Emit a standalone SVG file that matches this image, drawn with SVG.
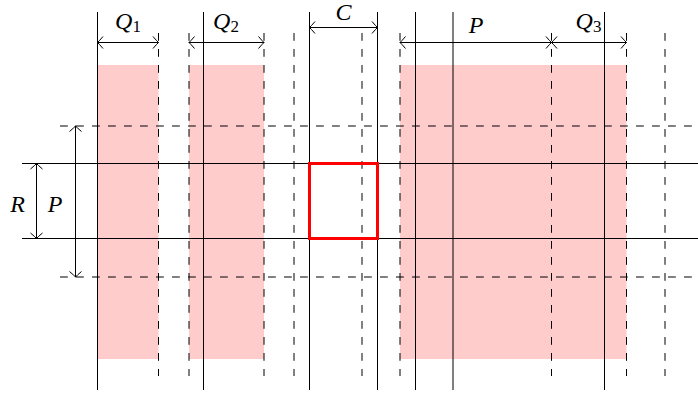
<svg xmlns="http://www.w3.org/2000/svg" width="698" height="394" viewBox="0 0 698 394">
<style>
.s{stroke:#000;stroke-width:1;fill:none}
.d{stroke:#000;stroke-width:1;fill:none;stroke-dasharray:7.8 8.2}
.dim{stroke:#000;stroke-width:1;fill:none;marker-start:url(#tip);marker-end:url(#tip)}
.fill{fill:#ffcccc;stroke:none}
.lbl{font-family:"Liberation Serif","DejaVu Serif",serif;font-style:italic;font-size:24px;fill:#000;text-anchor:middle}
.sub{font-style:normal;font-size:17px}
</style>
<defs>
<marker id="tip" markerUnits="userSpaceOnUse" viewBox="-8 -8 10 16" markerWidth="10" markerHeight="16" refX="0" refY="0" orient="auto-start-reverse" overflow="visible">
<path d="M -5.5 -6 Q -1.6 -1.4 0 0 Q -1.6 1.4 -5.5 6" fill="none" stroke="#000" stroke-width="1"/>
</marker>
</defs>
<rect width="698" height="394" fill="#fff"/>
<g id="shading">
<rect class="fill" x="97.5" y="65" width="61" height="294"/>
<rect class="fill" x="189" y="65" width="75" height="294"/>
<rect class="fill" x="400" y="65" width="226.5" height="294"/>
</g>
<g id="grid">
<path class="s" d="M97.5 12V390M203.5 12V390M309.5 12V390M377.5 12V390M415.5 12V390M453 12V390M604.5 12V390"/>
<path class="d" d="M158.5 33V376M189 33V376M264 33V376M294 33V376M362 33V376M400 33V376M551.5 33V376M626.5 33V376M665 33V376"/>
<path class="s" d="M22 163.5H698M22 238.5H698"/>
<path class="d" d="M60 126H698M60 277H698"/>
</g>
<g id="cell">
<rect x="309.5" y="163.5" width="68" height="75" fill="none" stroke="#ff0000" stroke-width="3"/>
</g>
<g id="dimensions">
<line class="dim" x1="97.5" y1="42.5" x2="158.5" y2="42.5"/>
<line class="dim" x1="189" y1="42.5" x2="264" y2="42.5"/>
<line class="dim" x1="309.5" y1="27.5" x2="377.5" y2="27.5"/>
<line class="dim" x1="400" y1="42.5" x2="551.5" y2="42.5"/>
<line class="dim" x1="551.5" y1="42.5" x2="626.5" y2="42.5"/>
<line class="dim" x1="36.5" y1="163.5" x2="36.5" y2="238.5"/>
<line class="dim" x1="75.5" y1="126" x2="75.5" y2="277"/>
</g>
<g id="labels">
<text class="lbl" x="128" y="29">Q<tspan class="sub" dy="3">1</tspan></text>
<text class="lbl" x="226" y="29">Q<tspan class="sub" dy="3">2</tspan></text>
<text class="lbl" x="343.5" y="20">C</text>
<text class="lbl" x="476" y="32.5">P</text>
<text class="lbl" x="588.5" y="29">Q<tspan class="sub" dy="3">3</tspan></text>
<text class="lbl" x="17.5" y="211.5">R</text>
<text class="lbl" x="55" y="211.5">P</text>
</g>
</svg>
